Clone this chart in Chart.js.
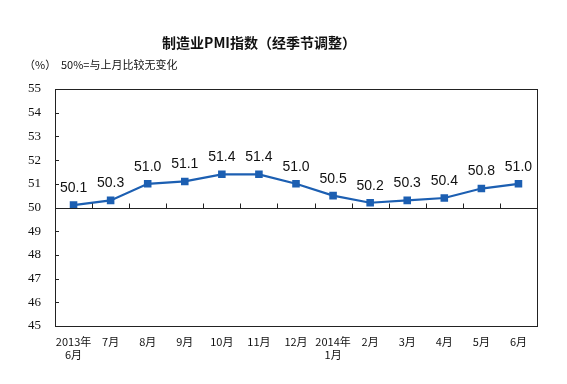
<!DOCTYPE html>
<html>
<head>
<meta charset="utf-8">
<script src="https://cdn.jsdelivr.net/npm/chart.js@4.4.0/dist/chart.umd.min.js"></script>
<style>
  body { margin: 0; background: #fff; }
  #wrap { width: 567px; height: 384px; }
</style>
</head>
<body>
<div id="wrap"><canvas id="pmiChart" width="567" height="384"></canvas></div>
<script>
// 制造业PMI 2013.6 - 2014.6
const months = [["2013年", "6月"], "7月", "8月", "9月", "10月", "11月", "12月", ["2014年", "1月"], "2月", "3月", "4月", "5月", "6月"];
const pmi = [50.1, 50.3, 51.0, 51.1, 51.4, 51.4, 51.0, 50.5, 50.2, 50.3, 50.4, 50.8, 51.0];
const yTicks = [45, 46, 47, 48, 49, 50, 51, 52, 53, 54, 55];

const lineColor = "#1c5fb2";
const cjk = "'Noto Sans CJK SC', sans-serif";

const decor = {
  id: "decor",
  afterDraw(chart) {
    const c = chart.ctx;
    const a = chart.chartArea;
    const x = chart.scales.x, y = chart.scales.y;
    c.save();
    c.strokeStyle = "#222";
    c.lineWidth = 1;
    // frame
    c.strokeRect(Math.round(a.left) + 0.5, Math.round(a.top) + 0.5, Math.round(a.right - a.left), Math.round(a.bottom - a.top));
    // 50 line
    const y50 = Math.round(y.getPixelForValue(50)) + 0.5;
    c.beginPath();
    c.moveTo(a.left, y50); c.lineTo(a.right, y50);
    // y ticks inward
    yTicks.forEach(v => {
      const py = Math.round(y.getPixelForValue(v)) + 0.5;
      c.moveTo(a.left, py); c.lineTo(a.left + 4, py);
    });
    // category boundary ticks on the 50 line
    for (let i = 1; i < months.length; i++) {
      const px = Math.round((x.getPixelForValue(i - 1) + x.getPixelForValue(i)) / 2) + 0.5;
      c.moveTo(px, y50); c.lineTo(px, y50 - 5);
    }
    c.stroke();

    // data labels
    const meta = chart.getDatasetMeta(0);
    c.fillStyle = "#111";
    c.font = "14px 'Liberation Sans', Arial, sans-serif";
    c.textAlign = "center";
    c.textBaseline = "bottom";
    meta.data.forEach((pt, i) => {
      c.fillText(pmi[i].toFixed(1), pt.x, pt.y - 10);
    });

    // title and notes
    c.fillStyle = "#111";
    c.font = "bold 14px " + cjk;
    c.textBaseline = "middle";
    c.fillText("制造业PMI指数（经季节调整）", 259, 43);
    c.font = "11px " + cjk;
    c.textAlign = "left";
    c.fillText("（%）", 24, 65);
    c.fillText("50%=与上月比较无变化", 61, 65);
    c.restore();
  }
};

new Chart(document.getElementById("pmiChart"), {
  type: "line",
  data: {
    labels: months,
    datasets: [{
      data: pmi,
      borderColor: lineColor,
      backgroundColor: lineColor,
      borderWidth: 2.2,
      pointStyle: "rect",
      pointRadius: 3.8,
      tension: 0
    }]
  },
  options: {
    responsive: false,
    animation: false,
    layout: { padding: { top: 89, right: 30, left: 0, bottom: 0 } },
    plugins: { legend: { display: false }, tooltip: { enabled: false } },
    scales: {
      x: {
        offset: true,
        grid: { display: false, drawTicks: false },
        border: { display: false },
        ticks: { color: "#111", font: { family: cjk, size: 11 }, padding: 9, maxRotation: 0, autoSkip: false },
        afterFit(s) { s.height = 58; }
      },
      y: {
        min: 45, max: 55,
        afterBuildTicks(s) { s.ticks = yTicks.map(v => ({ value: v })); },
        grid: { display: false, drawTicks: false },
        border: { display: false },
        ticks: { color: "#111", font: { family: "'Liberation Serif', serif", size: 13 }, padding: 14 },
        afterFit(s) { s.width = 55; }
      }
    }
  },
  plugins: [decor]
});
</script>
</body>
</html>
